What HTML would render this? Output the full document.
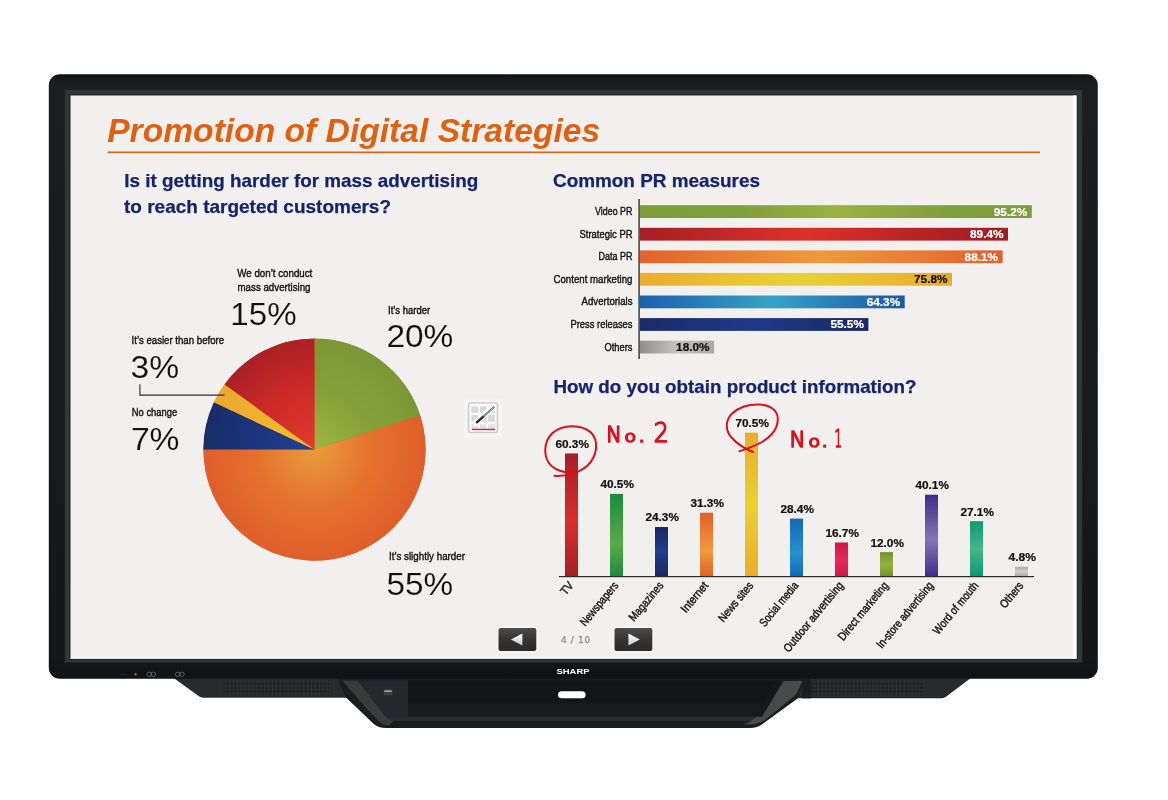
<!DOCTYPE html>
<html lang="en"><head><meta charset="utf-8"><title>Promotion of Digital Strategies</title>
<style>
html,body{margin:0;padding:0;background:#fff;}
body{width:1168px;height:800px;overflow:hidden;}
svg{display:block;}
text{font-family:"Liberation Sans",Arial,Helvetica,sans-serif;}
.cond{font-size:11.7px;fill:#141414;stroke:#141414;stroke-width:0.42px;}
.big{font-size:31px;fill:#111;stroke:#f2f0ee;stroke-width:0.12px;paint-order:fill stroke;}
.h2{font-size:18.5px;font-weight:bold;fill:#15246f;stroke:#15246f;stroke-width:0.25px;}
.val{font-size:10.6px;font-weight:bold;}
.hand{font-family:"DejaVu Sans","Liberation Sans",sans-serif;font-weight:200;fill:#dc0f1a;stroke:#dc0f1a;stroke-width:1.7px;stroke-linecap:round;stroke-linejoin:round;}
</style></head><body>
<svg width="1168" height="800" viewBox="0 0 1168 800">
<defs>
<radialGradient id="pgreen" gradientUnits="userSpaceOnUse" cx="314.5" cy="449.6" r="111.2"><stop offset="0" stop-color="#a0b640"/><stop offset="0.55" stop-color="#85a039"/><stop offset="1" stop-color="#7b9736"/></radialGradient>
<radialGradient id="porange" gradientUnits="userSpaceOnUse" cx="314.5" cy="449.6" r="111.2"><stop offset="0" stop-color="#ea9a3c"/><stop offset="0.55" stop-color="#e4702e"/><stop offset="1" stop-color="#df5e2b"/></radialGradient>
<radialGradient id="pblue" gradientUnits="userSpaceOnUse" cx="314.5" cy="449.6" r="111.2"><stop offset="0" stop-color="#1f4496"/><stop offset="0.55" stop-color="#1b357c"/><stop offset="1" stop-color="#1a2c68"/></radialGradient>
<radialGradient id="pyellow" gradientUnits="userSpaceOnUse" cx="314.5" cy="449.6" r="111.2"><stop offset="0" stop-color="#f4c030"/><stop offset="1" stop-color="#eaa82e"/></radialGradient>
<radialGradient id="pred" gradientUnits="userSpaceOnUse" cx="314.5" cy="449.6" r="111.2"><stop offset="0" stop-color="#e43c2c"/><stop offset="0.55" stop-color="#cc2a27"/><stop offset="1" stop-color="#ab2025"/></radialGradient>
<linearGradient id="h1" x1="0" y1="0" x2="1" y2="0"><stop offset="0" stop-color="#7b9c39"/><stop offset="0.25" stop-color="#7f9f3a"/><stop offset="0.5" stop-color="#9bb142"/><stop offset="0.8" stop-color="#7f9f3a"/><stop offset="1" stop-color="#7b9c39"/></linearGradient>
<linearGradient id="h2" x1="0" y1="0" x2="1" y2="0"><stop offset="0" stop-color="#a41f25"/><stop offset="0.45" stop-color="#dc3129"/><stop offset="0.75" stop-color="#b82326"/><stop offset="1" stop-color="#9c1e24"/></linearGradient>
<linearGradient id="h3" x1="0" y1="0" x2="1" y2="0"><stop offset="0" stop-color="#e2622c"/><stop offset="0.5" stop-color="#ee9a3e"/><stop offset="1" stop-color="#e2602b"/></linearGradient>
<linearGradient id="h4" x1="0" y1="0" x2="1" y2="0"><stop offset="0" stop-color="#ecac2c"/><stop offset="0.5" stop-color="#e6d335"/><stop offset="1" stop-color="#ecaa2c"/></linearGradient>
<linearGradient id="h5" x1="0" y1="0" x2="1" y2="0"><stop offset="0" stop-color="#1c60ad"/><stop offset="0.5" stop-color="#35a3c6"/><stop offset="1" stop-color="#1b58a6"/></linearGradient>
<linearGradient id="h6" x1="0" y1="0" x2="1" y2="0"><stop offset="0" stop-color="#1b2a68"/><stop offset="0.5" stop-color="#1d3a8a"/><stop offset="1" stop-color="#1a2862"/></linearGradient>
<linearGradient id="h7" x1="0" y1="0" x2="1" y2="0"><stop offset="0" stop-color="#8e8e8e"/><stop offset="0.5" stop-color="#c4c4c4"/><stop offset="1" stop-color="#a8a8a8"/></linearGradient>
<linearGradient id="v1" x1="0" y1="0" x2="0" y2="1"><stop offset="0" stop-color="#a41f25"/><stop offset="0.55" stop-color="#d92f2a"/><stop offset="1" stop-color="#a41f25"/></linearGradient>
<linearGradient id="v2" x1="0" y1="0" x2="0" y2="1"><stop offset="0" stop-color="#1e8a3d"/><stop offset="0.6" stop-color="#5aa949"/><stop offset="1" stop-color="#1e8a3d"/></linearGradient>
<linearGradient id="v3" x1="0" y1="0" x2="0" y2="1"><stop offset="0" stop-color="#1a2762"/><stop offset="0.5" stop-color="#1d3f8e"/><stop offset="1" stop-color="#1a2762"/></linearGradient>
<linearGradient id="v4" x1="0" y1="0" x2="0" y2="1"><stop offset="0" stop-color="#e2602b"/><stop offset="0.6" stop-color="#f09a3d"/><stop offset="1" stop-color="#e2602b"/></linearGradient>
<linearGradient id="v5" x1="0" y1="0" x2="0" y2="1"><stop offset="0" stop-color="#ecac2c"/><stop offset="0.5" stop-color="#e8d034"/><stop offset="1" stop-color="#ecac2c"/></linearGradient>
<linearGradient id="v6" x1="0" y1="0" x2="0" y2="1"><stop offset="0" stop-color="#1568b6"/><stop offset="0.6" stop-color="#2590cf"/><stop offset="1" stop-color="#1568b6"/></linearGradient>
<linearGradient id="v7" x1="0" y1="0" x2="0" y2="1"><stop offset="0" stop-color="#d3144c"/><stop offset="0.5" stop-color="#e6285a"/><stop offset="1" stop-color="#d3144c"/></linearGradient>
<linearGradient id="v8" x1="0" y1="0" x2="0" y2="1"><stop offset="0" stop-color="#6f9330"/><stop offset="0.5" stop-color="#96b03e"/><stop offset="1" stop-color="#6f9330"/></linearGradient>
<linearGradient id="v9" x1="0" y1="0" x2="0" y2="1"><stop offset="0" stop-color="#3c2e8a"/><stop offset="0.55" stop-color="#8674b8"/><stop offset="1" stop-color="#3c2e8a"/></linearGradient>
<linearGradient id="v10" x1="0" y1="0" x2="0" y2="1"><stop offset="0" stop-color="#0c9a72"/><stop offset="0.5" stop-color="#45b58e"/><stop offset="1" stop-color="#0c9a72"/></linearGradient>
<linearGradient id="v11" x1="0" y1="0" x2="0" y2="1"><stop offset="0" stop-color="#a9a9a9"/><stop offset="0.5" stop-color="#cfcfcf"/><stop offset="1" stop-color="#a9a9a9"/></linearGradient>
<linearGradient id="frame" x1="0" y1="0" x2="0" y2="1"><stop offset="0" stop-color="#0f1112"/><stop offset="0.012" stop-color="#1b1e1f"/><stop offset="0.03" stop-color="#1c1f20"/><stop offset="0.5" stop-color="#181b1c"/><stop offset="0.96" stop-color="#141617"/><stop offset="1" stop-color="#101213"/></linearGradient>
<linearGradient id="btn" x1="0" y1="0" x2="0" y2="1"><stop offset="0" stop-color="#4a4a4a"/><stop offset="0.5" stop-color="#353535"/><stop offset="1" stop-color="#2a2a2a"/></linearGradient>
<linearGradient id="tri" x1="0" y1="0" x2="0" y2="1"><stop offset="0" stop-color="#ffffff"/><stop offset="1" stop-color="#c8c8c8"/></linearGradient>
<linearGradient id="tray" x1="0" y1="0" x2="0" y2="1"><stop offset="0" stop-color="#1d2021"/><stop offset="0.55" stop-color="#141617"/><stop offset="0.8" stop-color="#232627"/><stop offset="1" stop-color="#16181a"/></linearGradient>
<pattern id="grille" width="3.9" height="3.9" patternUnits="userSpaceOnUse"><rect width="3.9" height="3.9" fill="#303334"/><rect width="2.9" height="2.9" fill="#1d1f20"/></pattern>
</defs>
<rect width="1168" height="800" fill="#ffffff"/>
<path d="M170 676 L175 679 L199 696.3 Q201.5 697.8 204.5 697.8 L350 697.8 L350 676 Z" fill="#282b2c"/>
<rect x="223.6" y="680.6" width="105.3" height="14.6" fill="url(#grille)"/>
<path d="M790 676 L790 698.3 L941 698.3 Q943.8 698.3 946 696.8 L969.5 679 L975 676 Z" fill="#282b2c"/>
<rect x="811.2" y="680.6" width="113.1" height="14.6" fill="url(#grille)"/>
<rect x="802" y="679" width="9" height="19.3" fill="#1b1d1e"/>
<path d="M336 676 L346 697.5 L373.5 723.8 Q378 728 386 728 L750 728 Q757.5 728 762.5 724 L797.6 698.5 L803 681.5 L806 676 Z" fill="#1b1d1e"/>
<path d="M342.2 680.5 L357.6 680.5 L385 716 Q388 719.5 394 720.5 L389 725.5 Q382.5 725 378.5 721 L368 710 Z" fill="#3a3c3c"/>
<path d="M357.6 680.5 L408 680.5 L408 716.8 L386 716.8 Z" fill="#25282a"/>
<rect x="408" y="680.5" width="366" height="23" fill="#121415"/>
<path d="M408 703.5 L770 703.5 L762 716.8 L408 716.8 Z" fill="#181a1b"/>
<path d="M386 716.8 L762 716.8 L757 721 L392 721 Z" fill="#2a2d2e"/>
<path d="M783.5 681 L802.7 681 L796 694.5 L765.5 719.5 Q759.5 724 751 724.5 L744 724.5 Q753 720.5 758.5 715 Z" fill="#484a49"/>
<path d="M774 680.5 L783.5 681 L762 716.8 L756 716.8 Z" fill="#151718"/>
<rect x="383.7" y="689.3" width="8.6" height="6" rx="0.6" fill="#3e4142"/><rect x="384.3" y="690.5" width="7.4" height="1.3" fill="#b5b8b9"/>
<rect x="558" y="691.2" width="27.6" height="7" rx="3.5" fill="#ffffff"/>
<rect x="48.8" y="74.2" width="1049" height="604.6" rx="11" ry="11" fill="url(#frame)"/>
<rect x="64.8" y="90" width="1017.4" height="572.5" fill="#313637"/>
<rect x="69.4" y="94.4" width="1008.2" height="565.2" fill="#1d2122"/>
<rect x="70.5" y="95.5" width="1006" height="563" fill="#f2f0ee"/>
<rect x="1073" y="95.5" width="3.5" height="563" fill="#ffffff"/>
<rect x="70.5" y="657.5" width="1006" height="1.2" fill="#ffffff"/>
<text x="573" y="673.6" text-anchor="middle" textLength="33" lengthAdjust="spacingAndGlyphs" style="font-size:6.6px;font-weight:bold;fill:#fff;">SHARP</text>
<rect x="120" y="674" width="7" height="0.8" fill="#2c2f30"/><circle cx="135.6" cy="674.3" r="1.1" fill="#3bbf5a"/>
<rect x="147" y="672.3" width="4.6" height="4" rx="1.6" fill="none" stroke="#6e7172" stroke-width="0.8"/><rect x="151" y="672.3" width="4.6" height="4" rx="1.6" fill="none" stroke="#6e7172" stroke-width="0.8"/>
<rect x="175.5" y="672.3" width="4.6" height="4" rx="1.6" fill="none" stroke="#6e7172" stroke-width="0.8"/><rect x="179.5" y="672.3" width="4.6" height="4" rx="1.6" fill="none" stroke="#6e7172" stroke-width="0.8"/>
<text x="107.2" y="141.5" textLength="493" lengthAdjust="spacingAndGlyphs" style="font-size:33.5px;font-weight:bold;font-style:italic;fill:#e1600f;">Promotion of Digital Strategies</text>
<rect x="107.7" y="151.5" width="932.3" height="1.6" fill="#e1600f"/>
<text class="h2" x="124.3" y="186.7" textLength="354" lengthAdjust="spacingAndGlyphs">Is it getting harder for mass advertising</text>
<text class="h2" x="124" y="213" textLength="267" lengthAdjust="spacingAndGlyphs">to reach targeted customers?</text>
<text class="h2" x="553" y="187.2" textLength="207" lengthAdjust="spacingAndGlyphs">Common PR measures</text>
<text class="h2" x="553.5" y="393.2" textLength="363" lengthAdjust="spacingAndGlyphs">How do you obtain product information?</text>
<circle cx="314.5" cy="449.6" r="110.9" fill="#df5e2b"/>
<path d="M314.5 449.6 L420.26 415.24 A111.2 111.2 0 1 1 203.30 449.60 Z" fill="url(#porange)"/>
<path d="M314.5 449.6 L314.50 338.40 A111.2 111.2 0 0 1 420.26 415.24 Z" fill="url(#pgreen)"/>
<path d="M314.5 449.6 L203.30 449.60 A111.2 111.2 0 0 1 213.88 402.25 Z" fill="url(#pblue)"/>
<path d="M314.5 449.6 L213.88 402.25 A111.2 111.2 0 0 1 224.54 384.24 Z" fill="url(#pyellow)"/>
<path d="M314.5 449.6 L224.54 384.24 A111.2 111.2 0 0 1 314.50 338.40 Z" fill="url(#pred)"/>
<text class="cond" x="237.3" y="277.3" textLength="75" lengthAdjust="spacingAndGlyphs" text-anchor="start">We don’t conduct</text>
<text class="cond" x="237.5" y="291.4" textLength="73" lengthAdjust="spacingAndGlyphs" text-anchor="start">mass advertising</text>
<text class="big" x="230.3" y="325.2" textLength="66.3" lengthAdjust="spacingAndGlyphs">15%</text>
<text class="cond" x="388" y="313.8" textLength="42.2" lengthAdjust="spacingAndGlyphs" text-anchor="start">It’s harder</text>
<text class="big" x="386.4" y="346.8" textLength="67" lengthAdjust="spacingAndGlyphs">20%</text>
<text class="cond" x="131.6" y="344.2" textLength="92.5" lengthAdjust="spacingAndGlyphs" text-anchor="start">It’s easier than before</text>
<text class="big" x="130.5" y="377.7" textLength="48.6" lengthAdjust="spacingAndGlyphs">3%</text>
<path d="M139.9 384.3 L139.9 395.1 L224.5 395.1" fill="none" stroke="#2c2c2c" stroke-width="1.1"/>
<text class="cond" x="131.8" y="415.9" textLength="45.4" lengthAdjust="spacingAndGlyphs" text-anchor="start">No change</text>
<text class="big" x="130.9" y="450" textLength="48.6" lengthAdjust="spacingAndGlyphs">7%</text>
<text class="cond" x="389" y="559.5" textLength="76" lengthAdjust="spacingAndGlyphs" text-anchor="start">It’s slightly harder</text>
<text class="big" x="386.4" y="594.6" textLength="66.7" lengthAdjust="spacingAndGlyphs">55%</text>
<rect x="638.4" y="199" width="1.4" height="160" fill="#303030"/>
<rect x="640" y="205.2" width="391.8" height="12.8" fill="url(#h1)"/>
<text class="cond" x="632.5" y="215.1" textLength="37.5" lengthAdjust="spacingAndGlyphs" text-anchor="end">Video PR</text>
<text class="val" x="1027.3" y="215.5" text-anchor="end" textLength="33.5" lengthAdjust="spacingAndGlyphs" fill="#fff" stroke="#fff" stroke-width="0.22">95.2%</text>
<rect x="640" y="227.8" width="368.0" height="12.8" fill="url(#h2)"/>
<text class="cond" x="632.5" y="237.7" textLength="53" lengthAdjust="spacingAndGlyphs" text-anchor="end">Strategic PR</text>
<text class="val" x="1003.5" y="238.1" text-anchor="end" textLength="33.5" lengthAdjust="spacingAndGlyphs" fill="#fff" stroke="#fff" stroke-width="0.22">89.4%</text>
<rect x="640" y="250.4" width="362.6" height="12.8" fill="url(#h3)"/>
<text class="cond" x="632.5" y="260.3" textLength="34" lengthAdjust="spacingAndGlyphs" text-anchor="end">Data PR</text>
<text class="val" x="998.1" y="260.7" text-anchor="end" textLength="33.5" lengthAdjust="spacingAndGlyphs" fill="#fff" stroke="#fff" stroke-width="0.22">88.1%</text>
<rect x="640" y="272.9" width="312.0" height="12.8" fill="url(#h4)"/>
<text class="cond" x="632.5" y="282.8" textLength="79" lengthAdjust="spacingAndGlyphs" text-anchor="end">Content marketing</text>
<text class="val" x="947.5" y="283.2" text-anchor="end" textLength="33.5" lengthAdjust="spacingAndGlyphs" fill="#111" stroke="#111" stroke-width="0.22">75.8%</text>
<rect x="640" y="295.5" width="264.7" height="12.8" fill="url(#h5)"/>
<text class="cond" x="632.5" y="305.4" textLength="51" lengthAdjust="spacingAndGlyphs" text-anchor="end">Advertorials</text>
<text class="val" x="900.2" y="305.8" text-anchor="end" textLength="33.5" lengthAdjust="spacingAndGlyphs" fill="#fff" stroke="#fff" stroke-width="0.22">64.3%</text>
<rect x="640" y="318.1" width="228.4" height="12.8" fill="url(#h6)"/>
<text class="cond" x="632.5" y="328.0" textLength="62" lengthAdjust="spacingAndGlyphs" text-anchor="end">Press releases</text>
<text class="val" x="863.9" y="328.4" text-anchor="end" textLength="33.5" lengthAdjust="spacingAndGlyphs" fill="#fff" stroke="#fff" stroke-width="0.22">55.5%</text>
<rect x="640" y="340.7" width="74.1" height="12.8" fill="url(#h7)"/>
<text class="cond" x="632.5" y="350.6" textLength="28" lengthAdjust="spacingAndGlyphs" text-anchor="end">Others</text>
<text class="val" x="709.6" y="351.0" text-anchor="end" textLength="33.5" lengthAdjust="spacingAndGlyphs" fill="#111" stroke="#111" stroke-width="0.22">18.0%</text>
<rect x="565" y="453.4" width="13" height="123.2" fill="url(#v1)"/>
<text class="val" x="572.2" y="447.8" text-anchor="middle" textLength="33.5" lengthAdjust="spacingAndGlyphs" fill="#111" stroke="#111" stroke-width="0.22">60.3%</text>
<text class="cond" x="574" y="585.8" text-anchor="end" textLength="13" lengthAdjust="spacingAndGlyphs" transform="rotate(-50.5 574 585.8)">TV</text>
<rect x="610" y="493.9" width="13" height="82.7" fill="url(#v2)"/>
<text class="val" x="617.2" y="488.3" text-anchor="middle" textLength="33.5" lengthAdjust="spacingAndGlyphs" fill="#111" stroke="#111" stroke-width="0.22">40.5%</text>
<text class="cond" x="619" y="585.8" text-anchor="end" textLength="53" lengthAdjust="spacingAndGlyphs" transform="rotate(-50.5 619 585.8)">Newspapers</text>
<rect x="655" y="527.0" width="13" height="49.6" fill="url(#v3)"/>
<text class="val" x="662.2" y="521.4" text-anchor="middle" textLength="33.5" lengthAdjust="spacingAndGlyphs" fill="#111" stroke="#111" stroke-width="0.22">24.3%</text>
<text class="cond" x="664" y="585.8" text-anchor="end" textLength="47" lengthAdjust="spacingAndGlyphs" transform="rotate(-50.5 664 585.8)">Magazines</text>
<rect x="700" y="512.7" width="13" height="63.9" fill="url(#v4)"/>
<text class="val" x="707.2" y="507.1" text-anchor="middle" textLength="33.5" lengthAdjust="spacingAndGlyphs" fill="#111" stroke="#111" stroke-width="0.22">31.3%</text>
<text class="cond" x="709" y="585.8" text-anchor="end" textLength="36" lengthAdjust="spacingAndGlyphs" transform="rotate(-50.5 709 585.8)">Internet</text>
<rect x="745" y="432.6" width="13" height="144.0" fill="url(#v5)"/>
<text class="val" x="752.2" y="427.0" text-anchor="middle" textLength="33.5" lengthAdjust="spacingAndGlyphs" fill="#111" stroke="#111" stroke-width="0.22">70.5%</text>
<text class="cond" x="754" y="585.8" text-anchor="end" textLength="48" lengthAdjust="spacingAndGlyphs" transform="rotate(-50.5 754 585.8)">News sites</text>
<rect x="790" y="518.6" width="13" height="58.0" fill="url(#v6)"/>
<text class="val" x="797.2" y="513.0" text-anchor="middle" textLength="33.5" lengthAdjust="spacingAndGlyphs" fill="#111" stroke="#111" stroke-width="0.22">28.4%</text>
<text class="cond" x="799" y="585.8" text-anchor="end" textLength="54" lengthAdjust="spacingAndGlyphs" transform="rotate(-50.5 799 585.8)">Social media</text>
<rect x="835" y="542.5" width="13" height="34.1" fill="url(#v7)"/>
<text class="val" x="842.2" y="536.9" text-anchor="middle" textLength="33.5" lengthAdjust="spacingAndGlyphs" fill="#111" stroke="#111" stroke-width="0.22">16.7%</text>
<text class="cond" x="844" y="585.8" text-anchor="end" textLength="87" lengthAdjust="spacingAndGlyphs" transform="rotate(-50.5 844 585.8)">Outdoor advertising</text>
<rect x="880" y="552.1" width="13" height="24.5" fill="url(#v8)"/>
<text class="val" x="887.2" y="546.5" text-anchor="middle" textLength="33.5" lengthAdjust="spacingAndGlyphs" fill="#111" stroke="#111" stroke-width="0.22">12.0%</text>
<text class="cond" x="889" y="585.8" text-anchor="end" textLength="72" lengthAdjust="spacingAndGlyphs" transform="rotate(-50.5 889 585.8)">Direct marketing</text>
<rect x="925" y="494.7" width="13" height="81.9" fill="url(#v9)"/>
<text class="val" x="932.2" y="489.1" text-anchor="middle" textLength="33.5" lengthAdjust="spacingAndGlyphs" fill="#111" stroke="#111" stroke-width="0.22">40.1%</text>
<text class="cond" x="934" y="585.8" text-anchor="end" textLength="82" lengthAdjust="spacingAndGlyphs" transform="rotate(-50.5 934 585.8)">In-store advertising</text>
<rect x="970" y="521.2" width="13" height="55.4" fill="url(#v10)"/>
<text class="val" x="977.2" y="515.6" text-anchor="middle" textLength="33.5" lengthAdjust="spacingAndGlyphs" fill="#111" stroke="#111" stroke-width="0.22">27.1%</text>
<text class="cond" x="979" y="585.8" text-anchor="end" textLength="64" lengthAdjust="spacingAndGlyphs" transform="rotate(-50.5 979 585.8)">Word of mouth</text>
<rect x="1015" y="566.8" width="13" height="9.8" fill="url(#v11)"/>
<text class="val" x="1022.2" y="561.2" text-anchor="middle" textLength="27.5" lengthAdjust="spacingAndGlyphs" fill="#111" stroke="#111" stroke-width="0.22">4.8%</text>
<text class="cond" x="1024" y="585.8" text-anchor="end" textLength="30" lengthAdjust="spacingAndGlyphs" transform="rotate(-50.5 1024 585.8)">Others</text>
<rect x="559" y="576" width="475" height="1.2" fill="#2a2a2a"/>
<path d="M554.5 475.8 C565 476.5 579 473.5 587.5 465.5 C597 456.5 599.5 441 591 432.5 C581 423.5 562 424.5 552.5 433 C543 442 543 458 551.5 466 C557.5 471 566 473.2 575 472" fill="none" stroke="#dc0f1a" stroke-width="2" stroke-linecap="round"/>
<path d="M753 452 C747 450 737 444 731 437 C725 429.5 725.5 420 732 413.5 C739 407 750 404.2 760 404.5 C770 405 777.5 410 777.8 418.5 C778 428 771 436.5 762 442 C754 446.5 746 449 739.5 451.3" fill="none" stroke="#dc0f1a" stroke-width="2" stroke-linecap="round"/>
<text class="hand" y="442.4"><tspan x="606.3" y="442.4" style="font-size:22px;" textLength="15.5" lengthAdjust="spacingAndGlyphs">N</tspan><tspan x="624.6" y="442.4" style="font-size:15.5px;" textLength="11.5" lengthAdjust="spacingAndGlyphs">o</tspan><tspan x="637.4" y="442.2" style="font-size:26px;">.</tspan> <tspan x="653.8" y="442.4" style="font-size:27px;" textLength="15" lengthAdjust="spacingAndGlyphs">2</tspan></text>
<text class="hand" y="446.8"><tspan x="789.4" y="446.8" style="font-size:22px;" textLength="16" lengthAdjust="spacingAndGlyphs">N</tspan><tspan x="808.4" y="446.8" style="font-size:15.5px;" textLength="11.5" lengthAdjust="spacingAndGlyphs">o</tspan><tspan x="820.6" y="446.5" style="font-size:26px;">.</tspan> <tspan x="834.5" y="446.8" style="font-size:24px;" textLength="7.5" lengthAdjust="spacingAndGlyphs">1</tspan></text>
<rect x="464.3" y="399.3" width="38" height="39.5" rx="3" fill="#f6f5f4"/>
<rect x="468.6" y="403.1" width="28.8" height="29.4" rx="2" fill="#fdfdfd" stroke="#cbcbcb" stroke-width="1.5"/>
<rect x="471.4" y="406.3" width="6.9" height="6.9" fill="#d9d9d9"/>
<rect x="471.4" y="414.9" width="6.9" height="6.9" fill="#d9d9d9"/>
<rect x="479.8" y="406.3" width="6.9" height="6.9" fill="#d9d9d9"/>
<rect x="479.8" y="414.9" width="6.9" height="6.9" fill="#d9d9d9"/>
<rect x="488.2" y="406.3" width="6.9" height="6.9" fill="#d9d9d9"/>
<rect x="488.2" y="414.9" width="6.9" height="6.9" fill="#d9d9d9"/>
<rect x="471.4" y="423.6" width="6.9" height="2.4" fill="#f1e4d8"/><rect x="471.4" y="426" width="6.9" height="2.4" fill="#d3e5ef"/>
<rect x="479.8" y="423.6" width="6.9" height="2.4" fill="#f1e4d8"/><rect x="479.8" y="426" width="6.9" height="2.4" fill="#d3e5ef"/>
<rect x="488.2" y="423.6" width="6.9" height="2.4" fill="#f1e4d8"/><rect x="488.2" y="426" width="6.9" height="2.4" fill="#d3e5ef"/>
<path d="M473.2 424.6 L494.6 405.8" stroke="#ffffff" stroke-width="5.6" fill="none"/>
<path d="M476.4 422.7 L494.4 406.7" stroke="#5c6162" stroke-width="2" fill="none"/>
<path d="M483.5 416.6 L494.2 407.1" stroke="#e9e9e9" stroke-width="0.6" fill="none"/>
<path d="M476.2 422.9 L483.6 416.3" stroke="#2b3031" stroke-width="2.3" fill="none"/>
<rect x="471.8" y="428.7" width="23.4" height="1.5" fill="#e0242c"/>
<rect x="497.3" y="626.8" width="40.2" height="25.4" rx="3" fill="#f8f7f6"/>
<rect x="498.5" y="628" width="37.8" height="23" rx="2" fill="url(#btn)"/>
<path d="M522.4 633.6 L522.4 645.4 L510.9 639.5 Z" fill="url(#tri)"/>
<rect x="613.3" y="626.8" width="40.2" height="25.4" rx="3" fill="#f8f7f6"/>
<rect x="614.5" y="628" width="37.8" height="23" rx="2" fill="url(#btn)"/>
<path d="M628.4 633.6 L628.4 645.4 L639.9 639.5 Z" fill="url(#tri)"/>
<text x="575.5" y="642.6" text-anchor="middle" textLength="29" lengthAdjust="spacing" style="font-family:'DejaVu Sans','Liberation Sans',sans-serif;font-size:8.8px;fill:#8c8c8c;stroke:#8c8c8c;stroke-width:0.25px;">4 / 10</text>
</svg></body></html>
